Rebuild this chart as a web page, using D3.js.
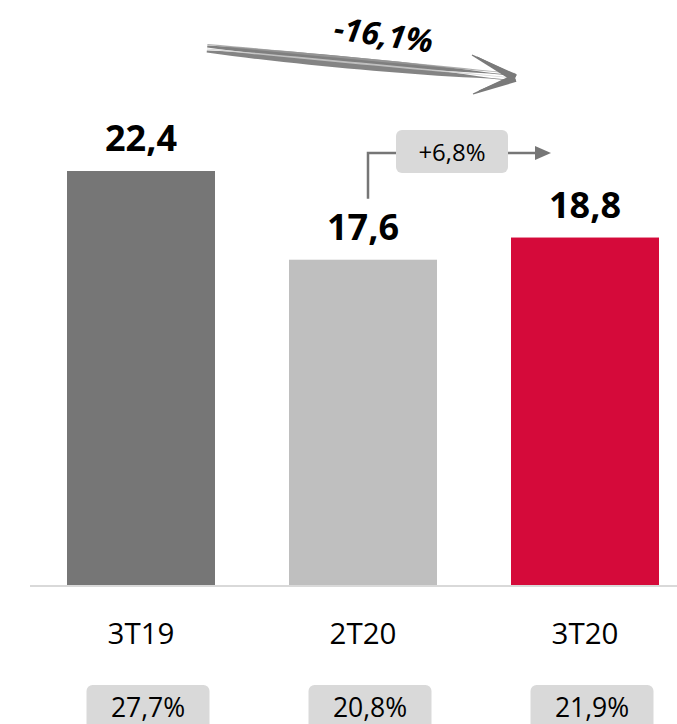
<!DOCTYPE html>
<html><head><meta charset="utf-8">
<script src="https://cdn.jsdelivr.net/npm/d3@7"></script>
<style>html,body{margin:0;padding:0;background:#fff;}svg{display:block;font-family:"Open Sans",sans-serif;}</style>
</head><body>
<script>
const categories = ["3T19", "2T20", "3T20"];
const values = [22.4, 17.6, 18.8];
const valueLabels = ["22,4", "17,6", "18,8"];
const ratioLabels = ["27,7%", "20,8%", "21,9%"];
const colors = ["#767676", "#bfbfbf", "#d50a3a"];
const changeQoQ = "+6,8%";
const changeYoY = "-16,1%";

const W = 677, H = 724;
const svg = d3.select("body").append("svg").attr("width", W).attr("height", H);

const x = d3.scaleBand().domain(categories).range([30, 696]).paddingInner(1/3).paddingOuter(1/6);
const y = d3.scaleLinear().domain([0, 22.4]).range([585, 171]);
const bw = x.bandwidth();
const cx = c => x(c) + bw / 2;

// baseline
svg.append("line").attr("x1", 30).attr("x2", W).attr("y1", y(0) + 1).attr("y2", y(0) + 1)
  .attr("stroke", "#d9d9d9").attr("stroke-width", 2);

// bars
svg.selectAll("rect.bar").data(categories).enter().append("rect").attr("class", "bar")
  .attr("x", d => x(d)).attr("width", bw)
  .attr("y", (d, i) => y(values[i])).attr("height", (d, i) => y(0) - y(values[i]))
  .attr("fill", (d, i) => colors[i]);

// value labels
svg.selectAll("text.val").data(categories).enter().append("text").attr("class", "val")
  .attr("x", d => cx(d)).attr("y", (d, i) => y(values[i]) - 20)
  .attr("text-anchor", "middle").attr("font-size", 36).attr("font-weight", 700).attr("fill", "#000")
  .text((d, i) => valueLabels[i]);

// category labels
svg.selectAll("text.cat").data(categories).enter().append("text").attr("class", "cat")
  .attr("x", d => cx(d)).attr("y", 644)
  .attr("text-anchor", "middle").attr("font-size", 29.5).attr("fill", "#000")
  .text(d => d);

// ratio boxes
const bg = svg.selectAll("g.ratio").data(categories).enter().append("g").attr("class", "ratio")
  .attr("transform", d => `translate(${cx(d) + 7},0)`);
bg.append("rect").attr("x", -61.5).attr("width", 123).attr("y", 685).attr("height", 60)
  .attr("rx", 6).attr("fill", "#d9d9d9");
bg.append("text").attr("y", 717).attr("text-anchor", "middle").attr("font-size", 26.5).attr("fill", "#000")
  .text((d, i) => ratioLabels[i]);

// QoQ connector
const g2 = cx(categories[1]) + 5;
const topY = 153;
const boxL = 396, boxR = 508;
const conn = svg.append("g").attr("stroke", "#767676").attr("stroke-width", 2.5).attr("fill", "none");
conn.append("path").attr("d", `M${g2},${y(values[1]) - 61} V${topY} H${boxL}`);
conn.append("path").attr("d", `M${boxR},${topY} H${x(categories[2]) + 25}`);
svg.append("path").attr("d", `M${x(categories[2]) + 24},${topY - 7} L${x(categories[2]) + 40},${topY} L${x(categories[2]) + 24},${topY + 7} Z`)
  .attr("fill", "#767676");
svg.append("rect").attr("x", boxL).attr("y", 130).attr("width", boxR - boxL).attr("height", 43)
  .attr("rx", 6).attr("fill", "#d9d9d9");
svg.append("text").attr("x", (boxL + boxR) / 2).attr("y", 161).attr("text-anchor", "middle")
  .attr("font-size", 24).attr("fill", "#000").text(changeQoQ);

// YoY sketchy arrow
const ag = svg.append("g");
const x0 = 207, y0 = 49, x1 = 515, y1 = 78;
const ang = Math.atan2(y1 - y0, x1 - x0);
function shaft(off, w, col, op) {
  const nx = -Math.sin(ang), ny = Math.cos(ang);
  const pts = [];
  const n = 24;
  const wf = t => w * Math.pow(Math.sin(Math.PI * Math.min(1, t * 1.1 + 0.02)), 0.6) * 0.5 + 0.4;
  for (let k = 0; k <= n; k++) {
    const t = k / n, px = x0 + (x1 - x0) * t, py = y0 + (y1 - y0) * t, ww = wf(t);
    pts.push([px + nx * (off - ww), py + ny * (off - ww)]);
  }
  for (let k = n; k >= 0; k--) {
    const t = k / n, px = x0 + (x1 - x0) * t, py = y0 + (y1 - y0) * t, ww = wf(t);
    pts.push([px + nx * (off + ww), py + ny * (off + ww)]);
  }
  ag.append("path").attr("d", d3.line()(pts) + "Z").attr("fill", col).attr("opacity", op);
}
shaft(-2.5, 5.5, "#787878", 0.95);
shaft(2.5, 6.5, "#7d7d7d", 0.95);
shaft(0, 1.0, "#cfcfcf", 0.8);
shaft(-4.5, 1.2, "#9a9a9a", 0.8);
const barb = (bx, by, w) => {
  const a = Math.atan2(y1 - by, x1 - bx), nx = -Math.sin(a), ny = Math.cos(a);
  ag.append("path").attr("d", d3.line()([[bx + nx * 0.6, by + ny * 0.6], [x1 + nx * w, y1 + ny * w], [x1 - nx * w, y1 - ny * w], [bx - nx * 0.6, by - ny * 0.6]]) + "Z")
    .attr("fill", "#7a7a7a");
};
barb(472, 55, 4);
barb(477, 57, 3);
barb(473, 94, 4);
barb(479, 91, 3);

svg.append("text").attr("transform", "translate(382,46) rotate(8)").attr("text-anchor", "middle")
  .attr("font-size", 32).attr("font-weight", 700).attr("font-style", "italic").attr("fill", "#000")
  .text(changeYoY);
</script>
</body></html>
